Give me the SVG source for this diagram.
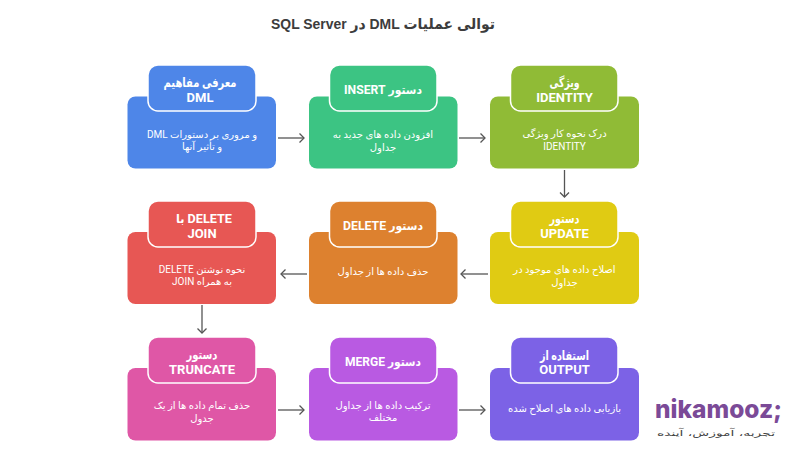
<svg xmlns="http://www.w3.org/2000/svg" width="800" height="450" viewBox="0 0 800 450">
<defs>
<style>
text{font-family:Roboto,"DejaVu Sans",sans-serif;text-anchor:middle;direction:rtl}
.h{font-size:13px;font-weight:700;fill:#fff}
.s{font-size:11.5px}
.b{font-size:10px;fill:#fff}
.hd{stroke:#fff;stroke-width:1.5}
.c{fill:none;stroke:#555;stroke-width:1.3}
</style>
<marker id="a" markerWidth="12" markerHeight="12" refX="9" refY="5" orient="auto" markerUnits="userSpaceOnUse"><path d="M4.5 0.5L9 5L4.5 9.5" fill="none" stroke="#555" stroke-width="1.3"/></marker>
</defs>
<rect width="800" height="450" fill="#fff"/>
<text x="383" y="29" font-size="15" font-weight="700" fill="#3c3c3c" textLength="224" lengthAdjust="spacingAndGlyphs" style="font-family:'Liberation Sans','DejaVu Sans',sans-serif">توالی عملیات DML در SQL Server</text>
<g id="connectors">
<path class="c" marker-end="url(#a)" d="M278 138H304"/>
<path class="c" marker-end="url(#a)" d="M459 138H485"/>
<path class="c" marker-end="url(#a)" d="M564.500 170V197"/>
<path class="c" marker-end="url(#a)" d="M488 274H461"/>
<path class="c" marker-end="url(#a)" d="M307 274H281"/>
<path class="c" marker-end="url(#a)" d="M202 305V333"/>
<path class="c" marker-end="url(#a)" d="M278 410H304"/>
<path class="c" marker-end="url(#a)" d="M459 410H485"/>
</g>
<g id="n1"><rect x="127.500" y="96.500" width="148.500" height="72" rx="8" fill="#4e86e8"/><rect class="hd" x="148" y="65" width="108" height="46" rx="10" fill="#4e86e8"/>
<text class="h" x="200" y="87" textLength="73" lengthAdjust="spacingAndGlyphs">معرفی مفاهیم</text><text class="h" x="200" y="102" style="direction:ltr">DML</text>
<text class="b" x="202" y="138">و مروری بر دستورات DML</text><text class="b" x="202" y="150">و تأثیر آنها</text></g>
<g id="n2"><rect x="309" y="96.500" width="148.500" height="72" rx="8" fill="#3cc483"/><rect class="hd" x="329.500" y="65" width="107.500" height="46" rx="10" fill="#3cc483"/>
<text class="h" x="383" y="94" textLength="78" lengthAdjust="spacingAndGlyphs"><tspan class="s">دستور</tspan> INSERT</text>
<text class="b" x="383" y="138">افزودن داده های جدید به</text><text class="b" x="383" y="151">جداول</text></g>
<g id="n3"><rect x="490" y="96.500" width="149" height="72" rx="8" fill="#90bb36"/><rect class="hd" x="510.500" y="65" width="107.500" height="46" rx="10" fill="#90bb36"/>
<text class="h" x="564.500" y="87" textLength="30" lengthAdjust="spacingAndGlyphs">ویژگی</text><text class="h" x="564.500" y="102" style="direction:ltr">IDENTITY</text>
<text class="b" x="564.500" y="137">درک نحوه کار ویژگی</text><text class="b" x="564.500" y="150" style="direction:ltr">IDENTITY</text></g>
<g id="n4"><rect x="490" y="232" width="149" height="72" rx="8" fill="#e0cb13"/><rect class="hd" x="510.500" y="201" width="107.500" height="46" rx="10" fill="#e0cb13"/>
<text class="h" x="564.500" y="223" textLength="30" lengthAdjust="spacingAndGlyphs">دستور</text><text class="h" x="564.500" y="238" style="direction:ltr">UPDATE</text>
<text class="b" x="564.500" y="273">اصلاح داده های موجود در</text><text class="b" x="564.500" y="286">جداول</text></g>
<g id="n5"><rect x="309" y="232" width="148.500" height="72" rx="8" fill="#dd812f"/><rect class="hd" x="329.500" y="201" width="107.500" height="46" rx="10" fill="#dd812f"/>
<text class="h" x="383" y="230" textLength="80" lengthAdjust="spacingAndGlyphs"><tspan class="s">دستور</tspan> DELETE</text>
<text class="b" x="383" y="275">حذف داده ها از جداول</text></g>
<g id="n6"><rect x="127.500" y="232" width="148.500" height="72" rx="8" fill="#e75754"/><rect class="hd" x="148" y="201" width="108" height="46" rx="10" fill="#e75754"/>
<text class="h" x="204" y="223" textLength="56" lengthAdjust="spacingAndGlyphs">DELETE <tspan class="s">با</tspan></text><text class="h" x="202" y="238" style="direction:ltr">JOIN</text>
<text class="b" x="202" y="273">نحوه نوشتن DELETE</text><text class="b" x="202" y="285">به همراه JOIN</text></g>
<g id="n7"><rect x="127.500" y="368" width="148.500" height="72.500" rx="8" fill="#df57a6"/><rect class="hd" x="148" y="337" width="108" height="46" rx="10" fill="#df57a6"/>
<text class="h" x="202" y="359" textLength="31" lengthAdjust="spacingAndGlyphs">دستور</text><text class="h" x="202" y="374" style="direction:ltr">TRUNCATE</text>
<text class="b" x="202" y="409">حذف تمام داده ها از یک</text><text class="b" x="202" y="422">جدول</text></g>
<g id="n8"><rect x="309" y="368" width="148.500" height="72.500" rx="8" fill="#b95ae2"/><rect class="hd" x="329.500" y="337" width="107.500" height="46" rx="10" fill="#b95ae2"/>
<text class="h" x="383" y="366" textLength="76" lengthAdjust="spacingAndGlyphs"><tspan class="s">دستور</tspan> MERGE</text>
<text class="b" x="383" y="409">ترکیب داده ها از جداول</text><text class="b" x="383" y="421">مختلف</text></g>
<g id="n9"><rect x="490" y="368" width="149" height="72.500" rx="8" fill="#7c62e6"/><rect class="hd" x="510.500" y="337" width="107.500" height="46" rx="10" fill="#7c62e6"/>
<text class="h" x="564.500" y="360" textLength="49" lengthAdjust="spacingAndGlyphs">استفاده از</text><text class="h" x="564.500" y="374" style="direction:ltr">OUTPUT</text>
<text class="b" x="564.500" y="412">بازیابی داده های اصلاح شده</text></g>
<g id="logo">
<text x="655" y="418" font-size="25" font-weight="800" fill="#7b4a97" textLength="127" lengthAdjust="spacingAndGlyphs" style="direction:ltr;text-anchor:start;font-family:Inter,Roboto,sans-serif">nikamooz;</text>
<text x="716" y="436" font-size="8.500" fill="#444" textLength="118" lengthAdjust="spacingAndGlyphs" style="font-family:'DejaVu Sans',sans-serif">تجربه، آموزش، آینده</text>
</g>
</svg>
